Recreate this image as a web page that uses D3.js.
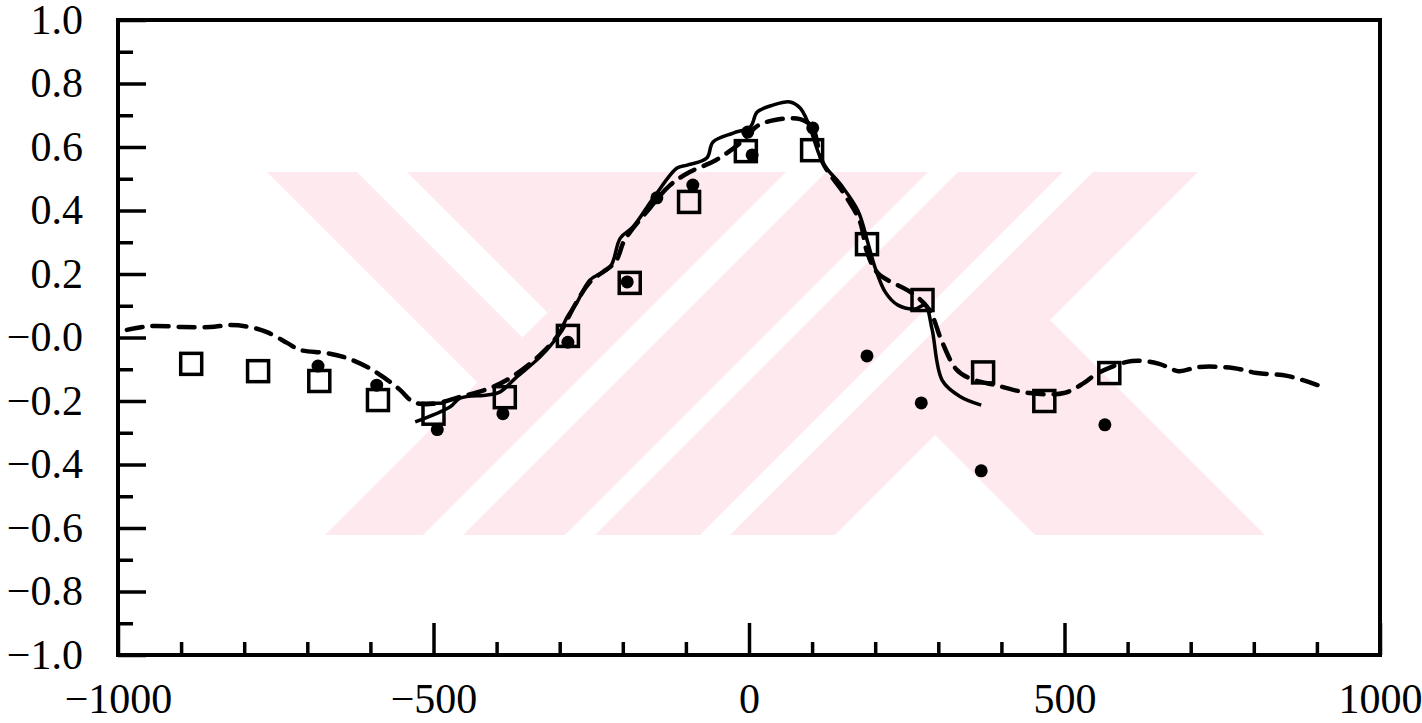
<!DOCTYPE html>
<html>
<head>
<meta charset="utf-8">
<script src="https://cdn.jsdelivr.net/npm/d3@7/dist/d3.min.js"></script>
<style>
    body { margin: 0; background: #fff; }
    text { font-family: "Liberation Serif", "DejaVu Serif", serif; }
</style>
</head>
<body>
<svg id="chart" width="1422" height="723"></svg>
<script>
// open squares
const squareX = [-884, -778, -681, -588, -500, -387, -287, -189, -95, -5, 100, 187, 275, 371, 468, 571]
const squareY = [-0.083, -0.106, -0.137, -0.197, -0.24, -0.188, 0.005, 0.172, 0.427, 0.587, 0.59, 0.294, 0.118, -0.11, -0.2, -0.112]

// filled dots
const dotX = [-683, -590, -494, -390, -287, -193, -146, -89, -2, 5, 101, 187, 273, 368, 564]
const dotY = [-0.09, -0.15, -0.29, -0.24, -0.015, 0.175, 0.44, 0.48, 0.647, 0.575, 0.66, -0.058, -0.206, -0.42, -0.275]

// solid curve
const solidX = [-529, -474, -458, -415, -395, -368, -331, -304, -288, -273, -252, -220, -204, -184, -157, -146, -114, -98, -67, -57, -25, 2, 13, 38, 65, 81, 94, 117, 146, 173, 189, 200, 216, 236, 263, 279, 290, 306, 333, 368]
const solidY = [-0.266, -0.219, -0.191, -0.181, -0.172, -0.124, -0.061, 0.002, 0.065, 0.109, 0.181, 0.222, 0.313, 0.348, 0.424, 0.455, 0.534, 0.543, 0.565, 0.616, 0.644, 0.663, 0.71, 0.732, 0.742, 0.723, 0.675, 0.55, 0.48, 0.398, 0.294, 0.219, 0.143, 0.102, 0.09, 0.102, 0.027, -0.134, -0.184, -0.213]

// dashed curve
const dashX = [-986, -949, -897, -854, -822, -791, -764, -732, -712, -669, -637, -605, -580, -553, -532, -501, -458, -410, -379, -331, -300, -276, -252, -212, -197, -157, -125, -94, -52, -14, 13, 41, 81, 100, 117, 152, 176, 187, 204, 258, 285, 306, 328, 349, 391, 445, 499, 531, 553, 607, 650, 681, 713, 767, 805, 853, 910]
const dashY = [0.024, 0.036, 0.033, 0.033, 0.039, 0.033, 0.017, -0.017, -0.039, -0.049, -0.065, -0.093, -0.124, -0.165, -0.203, -0.209, -0.187, -0.159, -0.128, -0.055, 0.014, 0.102, 0.175, 0.238, 0.307, 0.408, 0.48, 0.521, 0.559, 0.613, 0.666, 0.685, 0.688, 0.663, 0.55, 0.449, 0.364, 0.27, 0.203, 0.14, 0.09, -0.014, -0.099, -0.128, -0.15, -0.175, -0.175, -0.143, -0.112, -0.074, -0.083, -0.106, -0.093, -0.096, -0.112, -0.121, -0.156]

// axis ticks and labels
const xLabelValues = [-1000, -500, 0, 500, 1000]
const xLabels = ['\u22121000', '\u2212500', '0', '500', '1000']
const xMinorTicks = [-900, -800, -700, -600, -400, -300, -200, -100, 100, 200, 300, 400, 600, 700, 800, 900]
const yLabelValues = [-1, -0.8, -0.6, -0.4, -0.2, 0, 0.2, 0.4, 0.6, 0.8, 1]
const yLabels = ['\u22121.0', '\u22120.8', '\u22120.6', '\u22120.4', '\u22120.2', '\u22120.0', '0.2', '0.4', '0.6', '0.8', '1.0']
const yMinorTicks = [-0.9, -0.7, -0.5, -0.3, -0.1, 0.1, 0.3, 0.5, 0.7, 0.9]

const svg = d3.select('#chart')
const plotLeft = 118, plotRight = 1380, plotTop = 20, plotBottom = 655

const x = d3.scaleLinear().domain([-1000, 1000]).range([plotLeft, plotRight])
const y = d3.scaleLinear().domain([-1, 1]).range([plotBottom, plotTop])

// ---- background watermark (pink stripes) ----
const wm = { x0: 265, x1: 1275, y0: 172, y1: 535 }
const defs = svg.append('defs')
defs.append('clipPath').attr('id', 'wmClip')
    .append('rect').attr('x', wm.x0).attr('y', wm.y0).attr('width', wm.x1 - wm.x0).attr('height', wm.y1 - wm.y0)
defs.append('clipPath').attr('id', 'wmLeft')
    .append('polygon').attr('points', [[0, 0], [860, 0], [0, 860]].join(' '))
defs.append('clipPath').attr('id', 'wmRight')
    .append('polygon').attr('points', [[1370, 0], [3000, 0], [3000, 3000], [0, 3000], [0, 1370]].join(' '))

// "/" band: x + y between c1 and c2, "\" band: x - y between d1 and d2
function slash(c1, c2) {
    return [[c1 - wm.y0, wm.y0], [c2 - wm.y0, wm.y0], [c2 - wm.y1, wm.y1], [c1 - wm.y1, wm.y1]]
}
function back(d1, d2) {
    return [[d1 + wm.y0, wm.y0], [d2 + wm.y0, wm.y0], [d2 + wm.y1, wm.y1], [d1 + wm.y1, wm.y1]]
}
const pink = '#fde9ee'
const wmG = svg.append('g').attr('clip-path', 'url(#wmClip)')
const wmL = wmG.append('g').attr('clip-path', 'url(#wmLeft)')
const wmR = wmG.append('g').attr('clip-path', 'url(#wmRight)')
;[[95, 185], [235, 1200]].forEach(b => wmL.append('polygon').attr('points', back(b[0], b[1]).join(' ')).attr('fill', pink))
;[[860, 958], [998, 1100], [1130, 1235], [1265, 1370]].forEach(b => wmG.append('polygon').attr('points', slash(b[0], b[1]).join(' ')).attr('fill', pink))
;[[500, 730]].forEach(b => wmR.append('polygon').attr('points', back(b[0], b[1]).join(' ')).attr('fill', pink))

// ---- axes ----
const tickStyle = g => {
    g.select('.domain').remove()
    g.selectAll('line').attr('stroke', '#000').attr('stroke-width', 3.5)
    g.selectAll('text').attr('fill', '#000').attr('font-size', 42)
}

svg.append('g').attr('transform', `translate(${plotLeft},0)`)
    .call(d3.axisLeft(y).tickValues(yLabelValues).tickSize(-28).tickPadding(35)
        .tickFormat((d, i) => yLabels[i]))
    .call(tickStyle)
svg.append('g').attr('transform', `translate(${plotLeft},0)`)
    .call(d3.axisLeft(y).tickValues(yMinorTicks).tickSize(-15).tickFormat(''))
    .call(tickStyle)

svg.append('g').attr('transform', `translate(0,${plotBottom})`)
    .call(d3.axisBottom(x).tickValues(xLabelValues).tickSize(-32).tickPadding(28)
        .tickFormat((d, i) => xLabels[i]))
    .call(tickStyle)
svg.append('g').attr('transform', `translate(0,${plotBottom})`)
    .call(d3.axisBottom(x).tickValues(xMinorTicks).tickSize(-13).tickFormat(''))
    .call(tickStyle)

// frame
svg.append('rect')
    .attr('x', plotLeft).attr('y', plotTop)
    .attr('width', plotRight - plotLeft).attr('height', plotBottom - plotTop)
    .attr('fill', 'none').attr('stroke', '#000').attr('stroke-width', 4)

// ---- curves ----
const line = d3.line()
    .x(d => x(d[0])).y(d => y(d[1]))
    .curve(d3.curveCatmullRom.alpha(0.5))

svg.append('path')
    .datum(dashX.map((v, i) => [v, dashY[i]]))
    .attr('d', line)
    .attr('fill', 'none').attr('stroke', '#000')
    .attr('stroke-width', 4.5).attr('stroke-dasharray', '16,10')
    .attr('stroke-linecap', 'round')

svg.append('path')
    .datum(solidX.map((v, i) => [v, solidY[i]]))
    .attr('d', line)
    .attr('fill', 'none').attr('stroke', '#000')
    .attr('stroke-width', 3.5).attr('stroke-linejoin', 'round')

// ---- markers ----
svg.selectAll('.dot')
    .data(dotX.map((v, i) => [v, dotY[i]]))
    .enter().append('circle')
    .attr('class', 'dot')
    .attr('cx', d => x(d[0])).attr('cy', d => y(d[1]))
    .attr('r', 6.5).attr('fill', '#000')

const sq = 21
svg.selectAll('.sq')
    .data(squareX.map((v, i) => [v, squareY[i]]))
    .enter().append('rect')
    .attr('class', 'sq')
    .attr('x', d => x(d[0]) - sq / 2).attr('y', d => y(d[1]) - sq / 2)
    .attr('width', sq).attr('height', sq)
    .attr('fill', 'none').attr('stroke', '#000').attr('stroke-width', 3.5)
</script>
</body>
</html>
